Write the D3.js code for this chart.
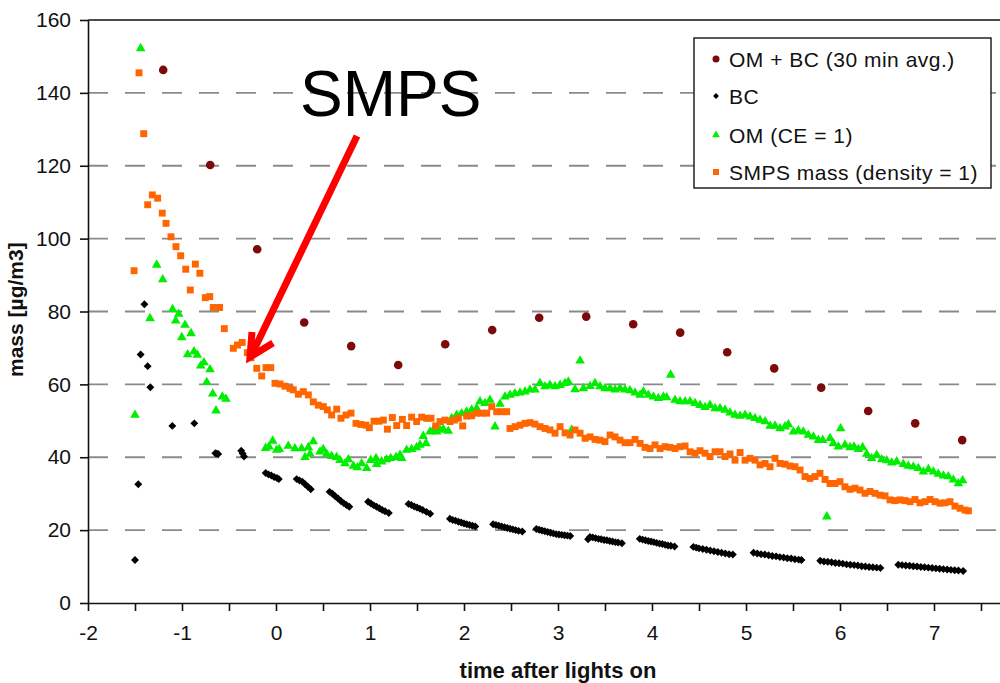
<!DOCTYPE html>
<html><head><meta charset="utf-8">
<script src="https://cdn.jsdelivr.net/npm/d3@7"></script>
<style>body{margin:0;background:#fff} svg{display:block} text{font-family:"Liberation Sans",Arial,Helvetica,sans-serif}</style>
</head><body><svg id="c" width="1000" height="683"></svg>
<script>
// ---------- data ----------
const xTickValues = [-2,-1.5,-1,-0.5,0,0.5,1,1.5,2,2.5,3,3.5,4,4.5,5,5.5,6,6.5,7,7.5,8];
const xTickLabels = [-2,-1,0,1,2,3,4,5,6,7];
const yTickValues = [0,20,40,60,80,100,120,140,160];
const legendLabels = ["OM + BC (30 min avg.)","BC","OM (CE = 1)","SMPS mass (density = 1)"];

const omBcTimes  = [-1.2,-0.7,-0.2,0.3,0.8,1.3,1.8,2.3,2.8,3.3,3.8,4.3,4.8,5.3,5.8,6.3,6.8,7.3];
const omBcValues = [146.3,120.2,97.1,77.0,70.5,65.3,71.0,74.9,78.3,78.6,76.5,74.2,68.8,64.4,59.1,52.7,49.3,44.7];

const bcPoints = [
[-1.50,11.8],[-1.465,32.6],[-1.44,68.2],[-1.40,82.0],[-1.365,65.0],[-1.337,59.2],[-1.103,48.6],[-0.869,49.3],
[-0.645,41.1],[-0.63,41.0],[-0.615,40.9],[-0.37,41.8],[-0.355,41.0],[-0.34,40.2],
[-0.11,35.7],[-0.08,35.3],[-0.05,35.0],[-0.02,34.6],[0.01,34.3],[0.03,34.0],
[0.22,34.0],[0.25,33.6],[0.28,33.3],[0.31,32.6],[0.34,31.9],[0.37,31.2],
[0.57,30.5],[0.60,30.0],[0.63,29.3],[0.66,28.7],[0.69,28.0],[0.72,27.4],[0.75,26.9],[0.78,26.4],
[0.98,27.8],[1.01,27.3],[1.04,26.8],[1.07,26.4],[1.10,26.0],[1.13,25.5],[1.16,25.2],[1.20,24.7],
[1.41,27.2],[1.44,26.9],[1.47,26.5],[1.50,26.2],[1.53,25.9],[1.56,25.5],[1.60,25.0],[1.64,24.5],
[1.85,23.1],[1.88,22.8],[1.91,22.6],[1.94,22.3],[1.97,22.1],[2.00,21.8],[2.03,21.6],[2.06,21.4],[2.09,21.2],[2.12,21.0],
[2.31,21.6],[2.34,21.4],[2.37,21.2],[2.40,21.0],[2.43,20.8],[2.46,20.6],[2.49,20.4],[2.52,20.2],[2.55,20.0],[2.58,19.8],[2.62,19.6],
[2.77,20.3],[2.80,20.1],[2.83,19.9],[2.86,19.7],[2.89,19.5],[2.92,19.3],[2.95,19.1],[2.98,18.9],[3.01,18.8],[3.04,18.7],[3.07,18.6],[3.10,18.5],[3.13,18.4],
[3.32,17.5],[3.34,18.1],[3.37,18.0],[3.40,17.8],[3.43,17.6],[3.46,17.5],[3.49,17.3],[3.52,17.2],[3.55,17.0],[3.58,16.9],[3.61,16.7],[3.64,16.6],[3.68,16.4],
[3.87,17.6],[3.90,17.4],[3.93,17.2],[3.96,17.0],[3.99,16.9],[4.02,16.7],[4.05,16.5],[4.08,16.3],[4.11,16.2],[4.14,16.0],[4.17,15.8],[4.20,15.7],[4.24,15.5],
[4.44,15.4],[4.47,15.2],[4.50,15.0],[4.54,14.8],[4.58,14.6],[4.62,14.4],[4.66,14.2],[4.70,14.0],[4.74,13.8],[4.78,13.6],[4.82,13.4],[4.86,13.3],
[5.08,13.8],[5.12,13.6],[5.16,13.4],[5.20,13.3],[5.24,13.1],[5.28,12.9],[5.32,12.8],[5.36,12.6],[5.40,12.5],[5.44,12.3],[5.48,12.2],[5.52,12.0],[5.56,11.9],[5.59,11.8],
[5.79,11.6],[5.83,11.4],[5.87,11.3],[5.91,11.2],[5.95,11.0],[5.99,10.9],[6.03,10.8],[6.07,10.6],[6.11,10.5],[6.15,10.4],[6.19,10.3],[6.23,10.1],[6.27,10.0],[6.31,9.9],[6.35,9.8],[6.39,9.7],[6.43,9.6],
[6.62,10.5],[6.66,10.4],[6.70,10.3],[6.74,10.2],[6.78,10.1],[6.82,10.0],[6.86,9.9],[6.90,9.8],[6.94,9.7],[6.98,9.6],[7.02,9.5],[7.06,9.4],[7.10,9.3],[7.14,9.2],[7.18,9.1],[7.22,9.0],[7.26,8.9],[7.31,8.8]
];

const omPoints = [
[-1.50,51.6],[-1.44,152.2],[-1.34,78.1],[-1.269,92.8],[-1.205,88.8],[-1.10,80.6],[-1.067,77.5],[-1.035,79.3],[-1.003,72.9],[-0.968,76.3],
[-0.94,68.2],[-0.904,74.0],[-0.872,69.0],[-0.837,68.1],[-0.801,65.1],[-0.766,66.0],[-0.737,60.6],[-0.702,64.1],[-0.673,57.4],[-0.638,52.8],[-0.571,56.6],[-0.532,56.0],
[-0.11,42.5],[-0.074,42.9],[-0.035,44.5],[0.007,42.0],[0.035,42.2],[0.131,43.1],[0.202,42.4],[0.273,42.4],[0.309,40.0],[0.344,42.7],[0.362,40.9],[0.397,44.3],
[0.468,41.5],[0.503,42.2],[0.539,40.9],[0.592,40.3],[0.645,40.0],[0.681,39.2],[0.734,38.3],[0.770,39.4],[0.823,37.6],[0.865,37.2],[0.911,38.3],[0.965,37.0],
[1.007,39.2],[1.064,39.7],[1.071,38.1],[1.124,38.8],[1.177,39.4],[1.22,39.7],[1.277,40.0],[1.319,40.6],[1.337,39.7],[1.39,42.0],[1.443,42.2],[1.496,42.7],
[1.532,43.4],[1.567,45.8],[1.596,43.8],[1.638,47.0],[1.674,47.5],[1.709,47.0],[1.745,47.5],[1.78,47.7],[1.833,47.2],[1.869,50.7],[1.922,51.6],[1.975,52.0],
[2.028,52.5],[2.081,53.0],[2.135,53.4],[2.17,55.3],[2.223,54.8],[2.276,55.7],[2.33,48.4],[2.383,54.6],[2.436,56.6],[2.49,57.1],[2.542,57.5],[2.596,57.7],
[2.649,58.0],[2.702,58.5],[2.755,58.5],[2.808,60.3],[2.862,59.4],[2.915,59.8],
[2.969,59.4],[3.022,59.8],[3.075,60.3],[3.11,60.7],[3.146,47.5],[3.181,58.6],[3.235,66.5],[3.27,58.9],[3.341,59.5],[3.394,60.3],[3.447,59.4],[3.5,58.9],
[3.554,58.9],[3.607,58.5],[3.66,58.9],[3.713,58.5],[3.766,58.3],[3.82,57.7],[3.873,57.1],[3.908,58.0],[3.961,57.1],[4.015,56.6],[4.068,56.2],[4.121,56.6],
[4.156,56.4],[4.199,62.6],[4.245,55.7],[4.298,55.3],[4.352,55.3],[4.405,55.3],[4.458,54.8],[4.511,54.3],[4.564,53.7],[4.617,54.3],[4.671,53.4],[4.724,53.4],
[4.777,53.0],[4.83,52.2],[4.883,51.6],[4.937,51.3],[4.99,51.6],[5.043,51.1],[5.096,50.7],[5.149,50.2],[5.203,49.8],[5.256,48.6],[5.309,48.6],
[5.362,47.9],[5.415,48.4],[5.451,49.0],[5.504,47.0],[5.557,47.3],[5.610,47.0],[5.663,46.1],[5.717,45.6],[5.770,44.7],[5.816,44.7],[5.86,23.7],[5.894,45.2],
[5.929,43.8],[5.983,42.9],[6.007,47.9],[6.053,43.4],[6.107,42.7],[6.149,42.9],[6.195,42.2],[6.241,42.7],[6.284,40.9],[6.337,39.7],[6.39,40.6],[6.444,39.4],
[6.497,39.1],[6.55,38.5],[6.603,38.8],[6.674,38.1],[6.727,37.6],[6.78,37.4],[6.834,37.0],[6.887,36.0],[6.94,36.7],[6.993,36.0],[7.046,35.4],[7.1,34.9],
[7.153,34.7],[7.206,33.8],[7.259,32.8],[7.305,33.6]
];

const smpsPoints = [
[-1.51,91.2],[-1.457,145.5],[-1.407,128.8],[-1.365,109.3],[-1.316,112.0],[-1.259,111.1],[-1.21,107.0],[-1.17,104.2],[-1.117,100.5],[-1.064,97.8],
[-1.014,95.3],[-0.96,91.6],[-0.912,85.9],[-0.858,93.0],[-0.81,90.5],[-0.752,83.8],[-0.705,84.1],[-0.667,81.1],[-0.60,81.1],[-0.55,75.3],[-0.454,69.9],
[-0.41,70.8],[-0.36,71.5],[-0.305,68.7],[-0.266,67.3],[-0.205,64.4],[-0.152,62.3],[-0.106,64.6],[-0.056,64.6],[-0.011,60.3],[0.043,60.1],[0.096,59.5],
[0.149,58.9],[0.184,58.5],[0.238,57.3],[0.29,58.0],[0.344,57.1],[0.397,55.2],[0.45,54.3],[0.503,53.9],[0.546,53.0],[0.592,51.6],[0.646,53.2],[0.691,50.7],
[0.745,51.6],[0.798,52.1],[0.851,49.3],[0.904,49.0],[0.957,48.8],[0.993,48.1],[1.043,49.9],[1.096,49.9],[1.142,50.2],[1.185,47.7],[1.238,50.9],[1.284,48.7],
[1.344,50.4],[1.39,48.7],[1.443,51.0],[1.496,49.8],[1.55,51.0],[1.603,50.7],[1.649,50.7],[1.699,48.6],[1.745,49.8],[1.798,50.2],[1.851,49.8],[1.897,50.2],
[1.94,50.7],[1.986,48.6],[2.029,51.3],[2.082,51.4],[2.135,52.1],[2.188,52.1],[2.241,52.1],[2.295,53.9],[2.348,52.5],[2.40,52.5],[2.454,52.5],[2.489,47.9],
[2.543,48.4],[2.596,48.8],[2.649,49.3],[2.702,49.5],[2.755,49.1],[2.809,48.4],[2.862,47.9],[2.915,47.5],
[2.969,46.6],[3.022,48.4],[3.075,46.7],[3.128,46.1],[3.181,47.5],[3.235,46.6],[3.288,45.2],[3.341,45.6],[3.394,44.9],[3.447,44.7],[3.5,44.3],[3.554,46.1],
[3.607,45.6],[3.66,44.7],[3.713,44.0],[3.766,44.0],[3.82,44.9],[3.873,43.8],[3.926,42.7],[3.979,42.4],[4.032,43.4],[4.086,42.4],[4.139,42.9],[4.192,42.7],
[4.245,42.4],[4.298,42.9],[4.352,43.1],[4.405,41.5],[4.458,41.1],[4.511,41.8],[4.564,41.1],[4.617,40.2],[4.671,41.5],[4.724,41.5],[4.777,40.2],[4.83,40.9],
[4.883,39.2],[4.937,41.3],[4.99,39.2],[5.043,39.7],[5.096,39.2],[5.149,37.9],[5.203,38.3],[5.256,37.4],[5.309,39.7],
[5.362,38.3],[5.415,38.1],[5.468,37.6],[5.521,37.4],[5.575,36.5],[5.628,34.7],[5.681,34.2],[5.734,34.7],[5.787,35.6],[5.841,33.9],[5.894,32.8],[5.947,32.8],
[6.0,33.3],[6.053,31.9],[6.107,31.2],[6.16,31.5],[6.213,31.0],[6.266,30.1],[6.319,30.6],[6.373,30.1],[6.426,29.6],[6.479,29.4],[6.532,28.3],[6.585,28.1],
[6.639,28.3],[6.692,28.1],[6.745,27.8],[6.798,28.4],[6.851,27.5],[6.905,27.8],[6.958,28.4],[7.011,27.8],[7.064,27.4],[7.117,27.5],[7.17,27.8],[7.223,26.6],
[7.277,26.0],[7.33,25.5],[7.366,25.3]
];

// ---------- chart ----------
const svg = d3.select("#c");
const x = d3.scaleLinear().domain([-2, 8]).range([88, 1028]);
const y = d3.scaleLinear().domain([0, 160]).range([603, 20]);

// gridlines
svg.append("g").selectAll("line")
  .data(yTickValues.filter(v => v > 0 && v < 160))
  .join("line")
  .attr("x1", x(-2)).attr("x2", 1000)
  .attr("y1", d => y(d)).attr("y2", d => y(d))
  .attr("stroke", "#8a8a8a").attr("stroke-width", 1.8)
  .attr("stroke-dasharray", "20,17");

// frame (top border and right border)
svg.append("line").attr("x1", x(-2)).attr("x2", x(8)).attr("y1", y(160)).attr("y2", y(160))
  .attr("stroke", "#111").attr("stroke-width", 1.6);
svg.append("line").attr("x1", x(8)).attr("x2", x(8)).attr("y1", y(160)).attr("y2", y(0))
  .attr("stroke", "#111").attr("stroke-width", 1.6);

// axes
const xAxis = svg.append("g").attr("transform", `translate(0,${y(0)})`)
  .call(d3.axisBottom(x).tickValues(xTickValues)
    .tickFormat(d => xTickLabels.includes(d) ? String(d) : "")
    .tickSizeInner(8).tickSizeOuter(0).tickPadding(14));
const yAxis = svg.append("g").attr("transform", `translate(${x(-2)},0)`)
  .call(d3.axisLeft(y).tickValues(yTickValues)
    .tickSizeInner(8).tickSizeOuter(0).tickPadding(9));
[xAxis, yAxis].forEach(g => {
  g.select(".domain").attr("stroke", "#111").attr("stroke-width", 1.6);
  g.selectAll(".tick line").attr("stroke", "#111").attr("stroke-width", 1.6);
  g.selectAll(".tick text").attr("font-size", 21).attr("fill", "#111")
    .attr("font-family", '"Liberation Sans", Arial, sans-serif');
});

// axis titles
svg.append("text").attr("x", 558).attr("y", 678).attr("text-anchor", "middle")
  .attr("font-size", 22).attr("font-weight", "bold").attr("fill", "#111")
  .text("time after lights on");
svg.append("text").attr("transform", `translate(23,${y(80.5)}) rotate(-90)`).attr("text-anchor", "middle")
  .attr("font-size", 21).attr("font-weight", "bold").attr("fill", "#111")
  .text("mass [µg/m3]");

// series
const sym = (type, size) => d3.symbol().type(type).size(size)();
const gData = svg.append("g");
gData.append("g").selectAll("circle")
  .data(omBcTimes.map((t, i) => [t, omBcValues[i]]))
  .join("circle").attr("cx", d => x(d[0])).attr("cy", d => y(d[1])).attr("r", 4.3)
  .attr("fill", "#7d0a0a");
gData.append("g").selectAll("path").data(bcPoints).join("path")
  .attr("d", sym(d3.symbolDiamond2, 40))
  .attr("transform", d => `translate(${x(d[0])},${y(d[1])})`).attr("fill", "#000");
gData.append("g").selectAll("path").data(omPoints).join("path")
  .attr("d", sym(d3.symbolTriangle, 40))
  .attr("transform", d => `translate(${x(d[0])},${y(d[1])})`).attr("fill", "#00ee00");
gData.append("g").selectAll("path").data(smpsPoints).join("path")
  .attr("d", sym(d3.symbolSquare, 48))
  .attr("transform", d => `translate(${x(d[0])},${y(d[1])})`).attr("fill", "#ff6600");

// legend
const lg = svg.append("g");
lg.append("rect").attr("x", 694).attr("y", 38).attr("width", 297).attr("height", 150)
  .attr("fill", "#fff").attr("stroke", "#222").attr("stroke-width", 1.5);
const rowsY = [59, 96, 135, 172];
const legendMarks = [
  g => g.append("circle").attr("r", 3.5).attr("fill", "#7d0a0a"),
  g => g.append("path").attr("d", sym(d3.symbolDiamond2, 22)).attr("fill", "#000"),
  g => g.append("path").attr("d", sym(d3.symbolTriangle, 26)).attr("fill", "#00ee00"),
  g => g.append("path").attr("d", sym(d3.symbolSquare, 36)).attr("fill", "#ff6600")
];
legendLabels.forEach((lab, i) => {
  const r = lg.append("g").attr("transform", `translate(716,${rowsY[i]})`);
  legendMarks[i](r);
  r.append("text").attr("x", 13).attr("y", 7.5).attr("font-size", 21)
    .attr("letter-spacing", 0.5).attr("fill", "#111").text(lab);
});

// annotation
svg.append("text").attr("x", 300).attr("y", 116).attr("font-size", 64).attr("fill", "#000").text("SMPS");
svg.append("line").attr("x1", 357).attr("y1", 136).attr("x2", 251).attr("y2", 356)
  .attr("stroke", "#ff0000").attr("stroke-width", 7);
svg.append("polyline").attr("points", "252,332 250,357 273,343")
  .attr("fill", "none").attr("stroke", "#ff0000").attr("stroke-width", 7)
  .attr("stroke-linejoin", "miter").attr("stroke-linecap", "butt");
</script></body></html>
